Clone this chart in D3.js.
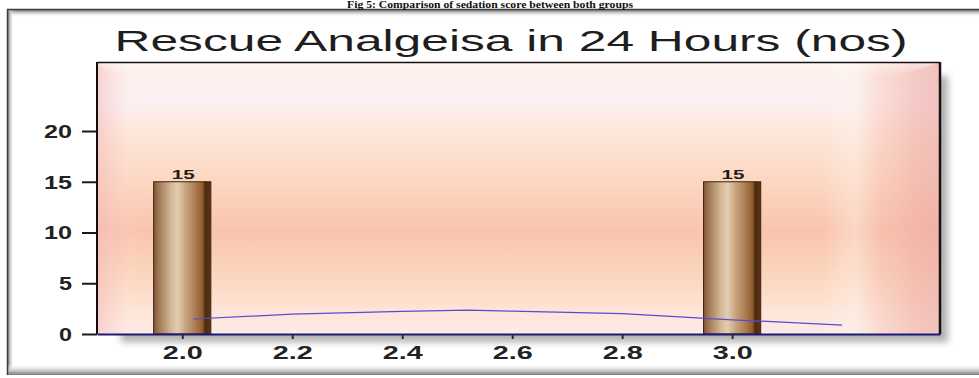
<!DOCTYPE html>
<html>
<head>
<meta charset="utf-8">
<script src="https://cdn.jsdelivr.net/npm/d3@7"></script>
<style>
  html, body { margin: 0; padding: 0; background: #ffffff; }
  svg { display: block; }
</style>
</head>
<body>
<svg id="chart" width="979" height="378"></svg>
<script>
// Chart data
const caption = "Fig 5: Comparison of sedation score between both groups";
const chartTitle = "Rescue Analgeisa in 24 Hours (nos)";
const barPositions = [2.0, 3.0];
const barValues = [15, 15];
const curveX = [2.02, 2.2, 2.4, 2.52, 2.6, 2.8, 3.0, 3.2];
const curveY = [1.48, 1.95, 2.22, 2.36, 2.25, 2.0, 1.4, 0.88];
const yTickValues = [0, 5, 10, 15, 20];
const xTickValues = [2.0, 2.2, 2.4, 2.6, 2.8, 3.0];

const W = 979, H = 378;
const plot = { left: 97, right: 940, top: 62, bottom: 334 };
const barWidthUnits = 0.104;

const svg = d3.select("#chart");
const defs = svg.append("defs");

// Scales
const x = d3.scaleLinear().domain([1.845, 3.378]).range([plot.left, plot.right]);
const y = d3.scaleLinear().domain([0, 26.8]).range([plot.bottom, plot.top]);

// ---------- gradients & filters ----------
function linGrad(id, x1, y1, x2, y2, stops) {
  const g = defs.append("linearGradient").attr("id", id)
    .attr("x1", x1).attr("y1", y1).attr("x2", x2).attr("y2", y2);
  stops.forEach(s => g.append("stop").attr("offset", s[0])
    .attr("stop-color", s[1]).attr("stop-opacity", s[2] == null ? 1 : s[2]));
}
linGrad("bgV", 0, 0, 0, 1, [
  [0, "#fdeee6"], [0.05, "#fdf0ec"], [0.14, "#fcf0f3"], [0.26, "#fde6d8"],
  [0.45, "#fcd6c0"], [0.62, "#f9c4ae"], [0.8, "#fcd8c0"], [0.93, "#fde6da"], [1, "#fcebe8"]
]);
linGrad("bgH", 0, 0, 1, 0, [
  [0, "#f3b8b8", 0.55], [0.025, "#f6c6c6", 0.2], [0.05, "#ffffff", 0],
  [0.86, "#ffffff", 0], [0.9, "#fff4ee", 0.35], [0.93, "#f3b9ad", 0.35],
  [0.97, "#efaaa2", 0.55], [1, "#e9a6a6", 0.6]
]);
linGrad("bevelTop", 0, 0, 0, 1, [
  [0, "#ffffff", 0.55], [1, "#ffffff", 0]
]);
linGrad("barGrad", 0, 0, 1, 0, [
  [0, "#7e5636"], [0.08, "#9e7552"], [0.3, "#d2b796"], [0.42, "#e2cdb2"],
  [0.55, "#caa682"], [0.75, "#a8784c"], [0.86, "#8d5a2c"], [0.9, "#4e2a10"], [1, "#5c3418"]
]);
linGrad("frameTop", 0, 0, 0, 1, [[0, "#6a6a6a"], [0.35, "#b0b0b0"], [1, "#ffffff", 0]]);
linGrad("frameLeft", 0, 0, 1, 0, [[0, "#6a6a6a"], [0.35, "#b0b0b0"], [1, "#ffffff", 0]]);
linGrad("frameBottom", 0, 0, 0, 1, [[0, "#ffffff", 0], [0.6, "#c8c8c8"], [1, "#7a7a7a"]]);

const blur = defs.append("filter").attr("id", "soft")
  .attr("x", "-10%").attr("y", "-10%").attr("width", "120%").attr("height", "130%");
blur.append("feGaussianBlur").attr("stdDeviation", 3.5);

// ---------- outer frame ----------
svg.append("rect").attr("x", 7).attr("y", 9).attr("width", W + 10).attr("height", 366)
  .attr("fill", "#ffffff");
svg.append("rect").attr("x", 7).attr("y", 9).attr("width", W).attr("height", 8)
  .attr("fill", "url(#frameTop)");
svg.append("rect").attr("x", 7).attr("y", 9).attr("width", 7).attr("height", 366)
  .attr("fill", "url(#frameLeft)");
svg.append("rect").attr("x", 7).attr("y", 364).attr("width", W).attr("height", 11)
  .attr("fill", "url(#frameBottom)");
svg.append("line").attr("x1", 7.5).attr("y1", 9).attr("x2", 7.5).attr("y2", 375)
  .attr("stroke", "#3c3c3c").attr("stroke-width", 1.5);
svg.append("line").attr("x1", 7).attr("y1", 9.5).attr("x2", W).attr("y2", 9.5)
  .attr("stroke", "#3c3c3c").attr("stroke-width", 1.5);

// ---------- caption ----------
svg.append("text")
  .attr("x", 490).attr("y", 8)
  .attr("text-anchor", "middle")
  .attr("font-family", "'Liberation Serif', 'Times New Roman', serif")
  .attr("font-weight", "bold").attr("font-size", 10.5)
  .attr("textLength", 286).attr("lengthAdjust", "spacingAndGlyphs")
  .attr("fill", "#111")
  .text(caption);

// ---------- title ----------
svg.append("text")
  .attr("x", 511).attr("y", 51)
  .attr("text-anchor", "middle")
  .attr("font-family", "'Liberation Sans', Arial, sans-serif")
  .attr("font-size", 29)
  .attr("textLength", 793).attr("lengthAdjust", "spacingAndGlyphs")
  .attr("fill", "#1e1e1e")
  .text(chartTitle);

// ---------- plot panel ----------
const pw = plot.right - plot.left, ph = plot.bottom - plot.top;
svg.append("rect")
  .attr("x", plot.left + 24).attr("y", plot.top + 14)
  .attr("width", pw - 16).attr("height", ph - 6)
  .attr("fill", "#7c7c7c").attr("opacity", 0.6)
  .attr("filter", "url(#soft)");
svg.append("rect").attr("x", plot.left).attr("y", plot.top)
  .attr("width", pw).attr("height", ph).attr("fill", "url(#bgV)");
svg.append("rect").attr("x", plot.left).attr("y", plot.top)
  .attr("width", pw).attr("height", ph).attr("fill", "url(#bgH)");
// top bevel highlight
svg.append("path")
  .attr("d", `M${plot.left},${plot.top} L${plot.right},${plot.top} L${plot.right - 40},${plot.top + 14} L${plot.left + 14},${plot.top + 14} Z`)
  .attr("fill", "url(#bevelTop)");

// panel border
svg.append("line").attr("x1", plot.left).attr("y1", plot.top + 0.5)
  .attr("x2", plot.right).attr("y2", plot.top + 0.5)
  .attr("stroke", "#1a1010").attr("stroke-width", 1.5);
svg.append("line").attr("x1", plot.right).attr("y1", plot.top)
  .attr("x2", plot.right).attr("y2", plot.bottom)
  .attr("stroke", "#1a1010").attr("stroke-width", 2.5);

// ---------- bars ----------
svg.append("g").selectAll("rect")
  .data(barPositions.map((p, i) => ({ p, v: barValues[i] })))
  .join("rect")
  .attr("x", d => x(d.p - barWidthUnits / 2))
  .attr("y", d => y(d.v))
  .attr("width", d => x(d.p + barWidthUnits / 2) - x(d.p - barWidthUnits / 2))
  .attr("height", d => y(0) - y(d.v))
  .attr("fill", "url(#barGrad)")
  .attr("stroke", "#3e2410").attr("stroke-width", 1);

svg.append("g").selectAll("text")
  .data(barPositions.map((p, i) => ({ p, v: barValues[i] })))
  .join("text")
  .attr("x", d => x(d.p) + 1)
  .attr("y", d => y(d.v) - 3)
  .attr("text-anchor", "middle")
  .attr("font-family", "'Liberation Sans', Arial, sans-serif")
  .attr("font-weight", "bold").attr("font-size", 12)
  .attr("textLength", 23).attr("lengthAdjust", "spacingAndGlyphs")
  .attr("fill", "#2a1a12")
  .text(d => d.v);

// ---------- curve ----------
const line = d3.line().x(d => x(d[0])).y(d => y(d[1]));
svg.append("path")
  .datum(curveX.map((cx, i) => [cx, curveY[i]]))
  .attr("d", line)
  .attr("fill", "none")
  .attr("stroke", "#5a4ad2").attr("stroke-width", 1.2);

// ---------- axes ----------
const yAxis = svg.append("g")
  .attr("transform", `translate(${plot.left},0)`)
  .call(d3.axisLeft(y).tickValues(yTickValues).tickSize(15).tickPadding(10).tickSizeOuter(0));
yAxis.select(".domain").attr("stroke", "#120c0c").attr("stroke-width", 2)
  .attr("d", `M0,${plot.top}V${plot.bottom}`);
yAxis.selectAll(".tick line").attr("stroke", "#1a1a1a").attr("stroke-width", 2);
yAxis.selectAll(".tick text")
  .attr("font-family", "'Liberation Sans', Arial, sans-serif")
  .attr("font-weight", "bold").attr("font-size", 18)
  .attr("fill", "#222")
  .attr("dy", "0.36em")
  .attr("textLength", d => String(d).length > 1 ? 28 : 13)
  .attr("lengthAdjust", "spacingAndGlyphs");

const xAxis = svg.append("g")
  .attr("transform", `translate(0,${plot.bottom})`)
  .call(d3.axisBottom(x).tickValues(xTickValues).tickFormat(d3.format(".1f"))
    .tickSize(5).tickPadding(7).tickSizeOuter(0));
xAxis.select(".domain").attr("stroke", "#1c1a78").attr("stroke-width", 2.2);
xAxis.selectAll(".tick line").attr("stroke", "#2a2a3a").attr("stroke-width", 2);
xAxis.selectAll(".tick text")
  .attr("font-family", "'Liberation Sans', Arial, sans-serif")
  .attr("font-weight", "bold").attr("font-size", 18)
  .attr("fill", "#222")
  .attr("textLength", 40)
  .attr("lengthAdjust", "spacingAndGlyphs");
</script>
</body>
</html>
